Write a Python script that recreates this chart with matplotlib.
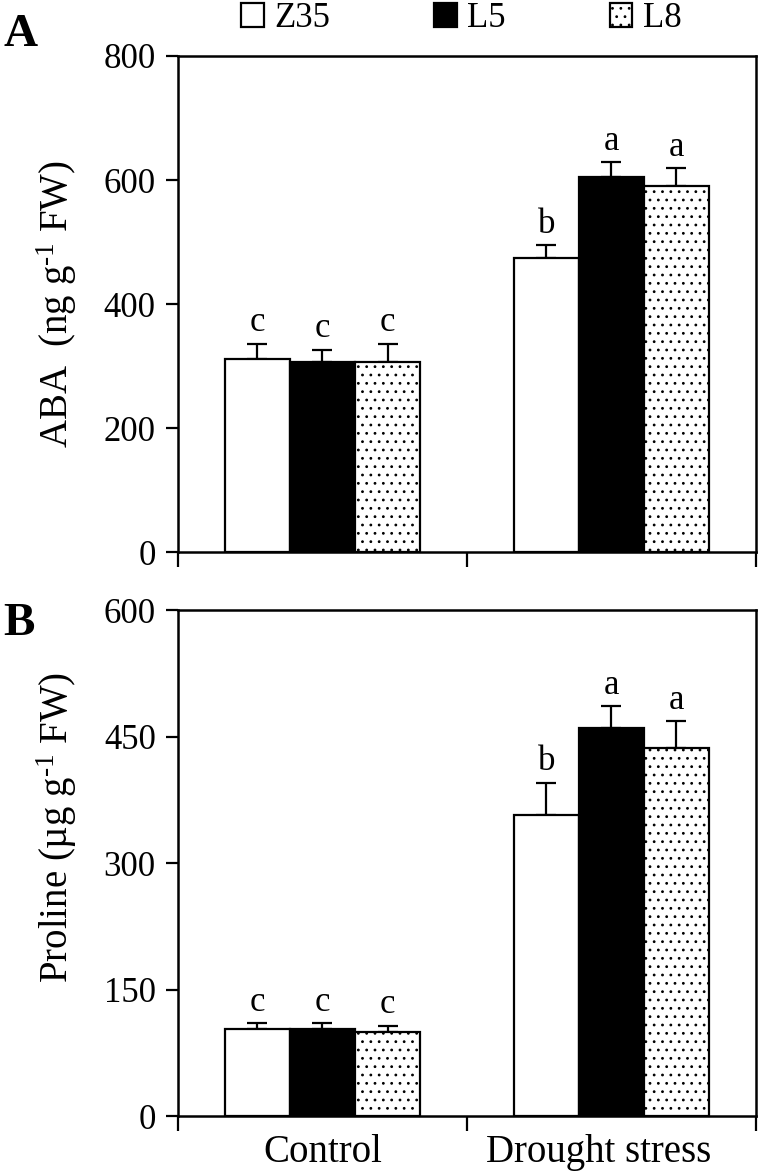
import matplotlib
matplotlib.use('Agg')
import matplotlib.pyplot as plt
import matplotlib.transforms as mtransforms
import numpy as np
from matplotlib.patches import Patch

plt.rcParams['font.family'] = ['Liberation Serif', 'DejaVu Serif']
plt.rcParams['mathtext.fontset'] = 'custom'
plt.rcParams['mathtext.rm'] = 'Liberation Serif'
plt.rcParams['mathtext.it'] = 'Liberation Serif:italic'
plt.rcParams['mathtext.bf'] = 'Liberation Serif:bold'
plt.rcParams['hatch.linewidth'] = 0.8

# ---------------- data ----------------
groups = ['Control', 'Drought stress']
genotypes = ['Z35', 'L5', 'L8']

aba_z35 = [311, 475]
aba_l5 = [307, 605]
aba_l8 = [307, 591]
aba_err_z35 = [25, 20]
aba_err_l5 = [19, 24]
aba_err_l8 = [29, 28]
aba_letters_z35 = ['c', 'b']
aba_letters_l5 = ['c', 'a']
aba_letters_l8 = ['c', 'a']

pro_z35 = [103, 357]
pro_l5 = [103, 460]
pro_l8 = [100, 436]
pro_err_z35 = [7, 38]
pro_err_l5 = [7, 26]
pro_err_l8 = [7, 32]
pro_letters_z35 = ['c', 'b']
pro_letters_l5 = ['c', 'a']
pro_letters_l8 = ['c', 'a']

aba_ticks = [0, 200, 400, 600, 800]
pro_ticks = [0, 150, 300, 450, 600]

# ---------------- styles ----------------
styles = [dict(facecolor='white', hatch=None),
          dict(facecolor='black', hatch=None),
          dict(facecolor='white', hatch='..')]
width = 0.225
offsets = [-width, 0, width]
LW = 1.6
FS = 25

fig = plt.figure(figsize=(7.6, 11.74), dpi=100)
axA = fig.add_axes([0.2342, 0.5298, 0.7605, 0.4225])
axB = fig.add_axes([0.2342, 0.0494, 0.7605, 0.4310])


def draw(ax, means, errs, letters, ticks, ylabel, label_y):
    x = np.arange(len(groups))
    for i in range(3):
        xs = x + offsets[i]
        ax.bar(xs, means[i], width=width, edgecolor='black', linewidth=LW,
               zorder=3, **styles[i])
        ax.errorbar(xs, means[i], yerr=[np.zeros(len(groups)), errs[i]],
                    fmt='none', ecolor='black', elinewidth=LW, capsize=7,
                    capthick=LW, zorder=2)
        for xi, m, e, t in zip(xs, means[i], errs[i], letters[i]):
            ax.annotate(t, (xi, m + e), xytext=(0, 9), textcoords='offset points',
                        ha='center', va='baseline', fontsize=FS)
    ax.set_xlim(-0.5, 1.5)
    ax.set_ylim(ticks[0], ticks[-1])
    ax.set_yticks(ticks)
    ax.set_xticks([-0.5, 0.5, 1.5])
    ax.set_xticklabels([])
    ax.set_xticks(x, minor=True)
    ax.tick_params(axis='y', direction='out', length=9, width=LW, labelsize=FS, pad=7)
    ax.tick_params(axis='x', which='major', direction='out', length=11, width=LW)
    ax.tick_params(axis='x', which='minor', length=0, labelsize=28, pad=13)
    for s in ax.spines.values():
        s.set_linewidth(LW + 0.2)
    ax.set_ylabel(ylabel, fontsize=28)
    ax.yaxis.set_label_coords(-0.171, label_y)


draw(axA, [aba_z35, aba_l5, aba_l8], [aba_err_z35, aba_err_l5, aba_err_l8],
     [aba_letters_z35, aba_letters_l5, aba_letters_l8], aba_ticks,
     r'ABA  (ng g$^{\text{-1}}$ FW)', 0.5)
draw(axB, [pro_z35, pro_l5, pro_l8], [pro_err_z35, pro_err_l5, pro_err_l8],
     [pro_letters_z35, pro_letters_l5, pro_letters_l8], pro_ticks,
     r'Proline (µg g$^{\text{-1}}$ FW)', 0.57)
axA.set_xticklabels([], minor=True)
labs = axB.set_xticklabels(groups, minor=True)
labs[1].set_transform(labs[1].get_transform() +
                      mtransforms.ScaledTranslation(-0.13, 0, fig.dpi_scale_trans))

handles = [Patch(edgecolor='black', linewidth=LW, **styles[i]) for i in range(3)]
fig.legend(handles, genotypes, loc='center', bbox_to_anchor=(0.607, 0.984),
           ncol=3, frameon=False, fontsize=FS, handlelength=0.65, handleheight=0.65,
           handletextpad=0.3, columnspacing=3.0, borderpad=0, borderaxespad=0)

fig.text(0.004, 0.961, 'A', fontsize=34, fontweight='bold', va='baseline', ha='left')
fig.text(0.004, 0.459, 'B', fontsize=34, fontweight='bold', va='baseline', ha='left')

fig.savefig('out.png', dpi=100)
